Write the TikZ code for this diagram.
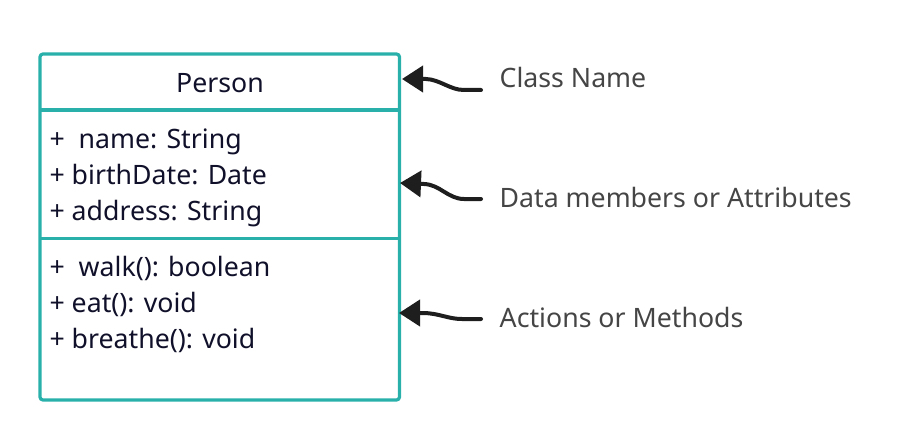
\documentclass[tikz,border=0pt]{standalone}
\usepackage{fontspec}
\setmainfont{Noto Sans}
\usetikzlibrary{arrows.meta}
\definecolor{teal1}{HTML}{2AB0AB}
\definecolor{navy1}{HTML}{10102A}
\definecolor{gray1}{HTML}{454545}
\definecolor{arrowc}{HTML}{1E1E1E}
\begin{document}
\begin{tikzpicture}[x=1pt,y=-1pt,
  boxline/.style={draw=teal1,line width=3.2pt},
  member/.style={anchor=base west,inner sep=0pt,text=navy1,font=\fontsize{26.7}{32}\selectfont},
  title/.style={anchor=base,inner sep=0pt,text=navy1,font=\fontsize{26.7}{32}\selectfont},
  note/.style={anchor=base west,inner sep=0pt,text=gray1,font=\fontsize{26.7}{32}\selectfont},
  pointer/.style={draw=arrowc,line width=4pt,line cap=round,-{Triangle[length=21pt,width=26pt]}}]
\useasboundingbox (0,0) rectangle (921,441);
% class box
\draw[boxline,rounded corners=3pt] (40,54) rectangle (399.5,400);
\coordinate (d1l) at (40,110); \coordinate (d1r) at (399.5,110);
\coordinate (d2l) at (40,238.5); \coordinate (d2r) at (399.5,238.5);
\draw[boxline] (d1l) -- (d1r);
\draw[boxline] (d2l) -- (d2r);
% texts
\node[title] (person) at (220,92.3) {Person};
\node[member] (a1) at (49.3,148.3) {+\ \ name: String};
\node[member] (a2) at (49.3,184) {+ birthDate: Date};
\node[member] (a3) at (49.3,220) {+ address: String};
\node[member] (m1) at (49.3,276.7) {+\ \ walk(): boolean};
\node[member] (m2) at (49.3,312.7) {+ eat(): void};
\node[member] (m3) at (49.3,348.3) {+ breathe(): void};
% notes
\node[note] (n1) at (499.5,88) {Class Name};
\node[note] (n2) at (499.5,207.7) {Data members or Attributes};
\node[note] (n3) at (499.5,327.7) {Actions or Methods};
% arrow endpoints
\coordinate (t1) at (481,90); \coordinate (h1) at (402,79);
\coordinate (t2) at (481,199); \coordinate (h2) at (400,183);
\coordinate (t3) at (481,319); \coordinate (h3) at (399,313);
\draw[pointer] (t1) -- (464,90) .. controls (450,90) and (440,79.5) .. (426,79) -- (h1);
\draw[pointer] (t2) -- (464,199) .. controls (448,199) and (440,184.5) .. (424,184) -- (h2);
\draw[pointer] (t3) -- (462,319) .. controls (448,319) and (440,313.5) .. (424,313) -- (h3);
\end{tikzpicture}
\end{document}
